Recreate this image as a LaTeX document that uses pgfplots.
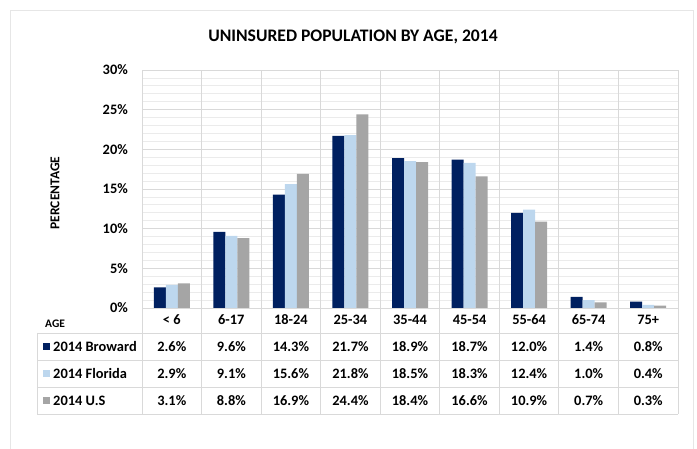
\documentclass[border=0pt]{standalone}
\usepackage{pgfplots}
\pgfplotsset{compat=1.18}
\usepackage{fontspec}
\setmainfont{Carlito}
\definecolor{broward}{HTML}{002060}
\definecolor{florida}{HTML}{BDD7EE}
\definecolor{usc}{HTML}{A5A5A5}
\definecolor{gridc}{HTML}{D9D9D9}
\definecolor{minorc}{HTML}{EBEBEB}
\definecolor{framec}{HTML}{E6E6E6}
\begin{document}
\begin{tikzpicture}[x=1pt,y=1pt]
\path[use as bounding box] (0,0) rectangle (697,449);
\draw[framec, line width=1pt] (10.5,0) -- (10.5,438.5) -- (693.5,438.5) -- (693.5,0);
\node[font=\fontsize{17.6}{20}\selectfont\bfseries, anchor=center] at (353,412) {UNINSURED POPULATION BY AGE, 2014};
\begin{axis}[
  at={(142pt,141pt)}, anchor=south west,
  scale only axis, width=536pt, height=238pt,
  xmin=-0.5, xmax=8.5, ymin=0, ymax=30,
  axis line style={draw=gridc},
  ytick={0,5,...,30},
  yticklabels={0\%,5\%,10\%,15\%,20\%,25\%,30\%},
  minor y tick num=4,
  ymajorgrids, yminorgrids,
  major grid style={draw=gridc, line width=0.8pt},
  minor grid style={draw=minorc, line width=0.8pt},
  major tick length=0pt, minor tick length=0pt,
  xtick={0,...,8},
  xticklabels={< 6,6-17,18-24,25-34,35-44,45-54,55-64,65-74,75+},
  xticklabel style={font=\fontsize{14.4}{17}\selectfont\bfseries, inner sep=0pt, anchor=base, yshift=-17pt},
  yticklabel style={font=\fontsize{14.4}{17}\selectfont\bfseries, inner sep=0pt, anchor=east, xshift=-14pt},
  extra x ticks={0.5,1.5,...,7.5},
  extra x tick labels={},
  extra x tick style={xmajorgrids=true, major grid style={draw=gridc, line width=0.8pt}},
  clip=false,
]
\addplot[ybar, bar width=12pt, bar shift=-12pt, fill=broward, draw=none] coordinates {
 (0,2.6) (1,9.6) (2,14.3) (3,21.7) (4,18.9) (5,18.7) (6,12.0) (7,1.4) (8,0.8)};
\addplot[ybar, bar width=12pt, bar shift=0pt, fill=florida, draw=none] coordinates {
 (0,2.9) (1,9.1) (2,15.6) (3,21.8) (4,18.5) (5,18.3) (6,12.4) (7,1.0) (8,0.4)};
\addplot[ybar, bar width=12pt, bar shift=12pt, fill=usc, draw=none] coordinates {
 (0,3.1) (1,8.8) (2,16.9) (3,24.4) (4,18.4) (5,16.6) (6,10.9) (7,0.7) (8,0.3)};
\end{axis}
\node[font=\fontsize{13.5}{15}\selectfont\bfseries, rotate=90, anchor=center, inner sep=0pt] at (55,256) {PERCENTAGE};
% data table grid
\draw[gridc, line width=0.8pt] (142,141) -- (678,141);
\foreach \yy in {116,89,62,35} {\draw[gridc, line width=0.8pt] (37,\yy) -- (678,\yy);}
\draw[gridc, line width=0.8pt] (37,116) -- (37,35);
\foreach \k in {0,...,9} {\draw[gridc, line width=0.8pt] ({142+59.556*\k},141) -- ({142+59.556*\k},35);}
% header
\node[font=\fontsize{11.5}{13}\selectfont\bfseries, anchor=base west, inner sep=0pt] at (45,121.5) {AGE};
% legend keys
\fill[broward] (43,99) rectangle (50,106);
\fill[florida] (43,72) rectangle (50,79);
\fill[usc] (43,45) rectangle (50,52);
\begin{scope}[every node/.style={font=\fontsize{14.4}{17}\selectfont\bfseries, inner sep=0pt}]
\node[anchor=base west] at (53,97.9) {2014 Broward};
\node[anchor=base west] at (53,70.9) {2014 Florida};
\node[anchor=base west] at (53,43.9) {2014 U.S};
\foreach \v [count=\i from 0] in {2.6\%,9.6\%,14.3\%,21.7\%,18.9\%,18.7\%,12.0\%,1.4\%,0.8\%}
  {\node[anchor=base] at ({142+59.556*(\i+0.5)},97.9) {\v};}
\foreach \v [count=\i from 0] in {2.9\%,9.1\%,15.6\%,21.8\%,18.5\%,18.3\%,12.4\%,1.0\%,0.4\%}
  {\node[anchor=base] at ({142+59.556*(\i+0.5)},70.9) {\v};}
\foreach \v [count=\i from 0] in {3.1\%,8.8\%,16.9\%,24.4\%,18.4\%,16.6\%,10.9\%,0.7\%,0.3\%}
  {\node[anchor=base] at ({142+59.556*(\i+0.5)},43.9) {\v};}
\end{scope}
\end{tikzpicture}
\end{document}
